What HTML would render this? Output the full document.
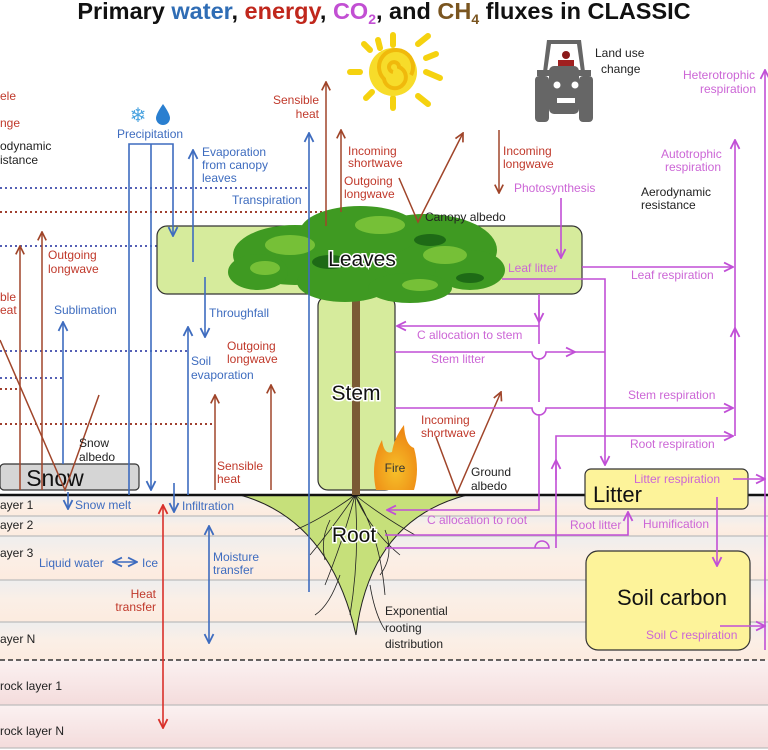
<!DOCTYPE html>
<html><head><meta charset="utf-8"><style>
html,body{margin:0;padding:0;background:#fff;}
svg{display:block;font-family:"Liberation Sans",sans-serif;}
.b{fill:#3e6cbf;font-size:12px}
.r{fill:#c0392b;font-size:12px}
.m{fill:#cc66d6;font-size:12px}
.k{fill:#222;font-size:12px}
</style></head><body>
<svg width="768" height="750" viewBox="0 0 768 750" xmlns="http://www.w3.org/2000/svg">
<defs>
<marker id="ab" viewBox="0 0 10 10" refX="9" refY="5" markerWidth="7" markerHeight="7" orient="auto-start-reverse"><path d="M1,1 L9,5 L1,9" fill="none" stroke="#3e6cbf" stroke-width="1.6"/></marker>
<marker id="ar" viewBox="0 0 10 10" refX="9" refY="5" markerWidth="7" markerHeight="7" orient="auto-start-reverse"><path d="M1,1 L9,5 L1,9" fill="none" stroke="#a0452a" stroke-width="1.6"/></marker>
<marker id="arr" viewBox="0 0 10 10" refX="9" refY="5" markerWidth="7" markerHeight="7" orient="auto-start-reverse"><path d="M1,1 L9,5 L1,9" fill="none" stroke="#d9302a" stroke-width="1.6"/></marker>
<marker id="am" viewBox="0 0 10 10" refX="9" refY="5" markerWidth="7" markerHeight="7" orient="auto-start-reverse"><path d="M1,1 L9,5 L1,9" fill="none" stroke="#c14fd6" stroke-width="1.6"/></marker>
<linearGradient id="band" x1="0" y1="0" x2="0" y2="1"><stop offset="0" stop-color="#eeeeee"/><stop offset="0.5" stop-color="#fbefe6"/><stop offset="1" stop-color="#fcebdf"/></linearGradient>
<linearGradient id="rock" x1="0" y1="0" x2="0" y2="1"><stop offset="0" stop-color="#fbf1f1"/><stop offset="1" stop-color="#f4dcdc"/></linearGradient>
<radialGradient id="fire" cx="0.5" cy="0.7" r="0.6"><stop offset="0" stop-color="#f6c02a"/><stop offset="1" stop-color="#ee8a14"/></radialGradient>
</defs>

<rect x="0" y="495" width="768" height="21" fill="url(#band)"/>
<rect x="0" y="516" width="768" height="20" fill="url(#band)"/>
<rect x="0" y="536" width="768" height="44" fill="url(#band)"/>
<rect x="0" y="580" width="768" height="42" fill="url(#band)"/>
<rect x="0" y="622" width="768" height="38" fill="url(#band)"/>
<rect x="0" y="660" width="768" height="45" fill="url(#rock)"/>
<rect x="0" y="705" width="768" height="43" fill="url(#rock)"/>
<g stroke="#bdbdbd" stroke-width="1.2">
<line x1="0" y1="516" x2="768" y2="516"/><line x1="0" y1="536" x2="768" y2="536"/>
<line x1="0" y1="580" x2="768" y2="580"/><line x1="0" y1="622" x2="768" y2="622"/>
<line x1="0" y1="705" x2="768" y2="705"/><line x1="0" y1="748" x2="768" y2="748"/>
</g>
<line x1="0" y1="660" x2="768" y2="660" stroke="#333" stroke-width="1.5" stroke-dasharray="5,3"/>

<text x="384" y="19" text-anchor="middle" font-size="23.5" font-weight="bold" fill="#111">Primary <tspan fill="#2f6db5">water</tspan>, <tspan fill="#c0271c">energy</tspan>, <tspan fill="#c24fd3">CO<tspan font-size="14" dy="5">2</tspan></tspan><tspan dy="-5">, and </tspan><tspan fill="#7a5520">CH<tspan font-size="14" dy="5">4</tspan></tspan><tspan dy="-5"> fluxes in CLASSIC</tspan></text>

<g stroke="#f5d20f" stroke-width="6" stroke-linecap="round">
<line x1="393" y1="35" x2="393" y2="45"/><line x1="393" y1="98" x2="393" y2="108"/>
<line x1="350" y1="72" x2="360" y2="72"/><line x1="426" y1="72" x2="440" y2="78"/>
<line x1="364" y1="44" x2="370" y2="50"/><line x1="418" y1="44" x2="428" y2="36"/>
<line x1="366" y1="98" x2="372" y2="92"/><line x1="418" y1="96" x2="428" y2="104"/>
<line x1="378" y1="40" x2="380" y2="48"/><line x1="426" y1="58" x2="436" y2="54"/>
</g>
<circle cx="393" cy="72" r="24" fill="#f7dc2a"/>
<path d="M393,72 a5,5 0 1,1 6,-5 a11,11 0 1,1 -15,12 a17,17 0 1,1 27,-4" fill="none" stroke="#f0b90c" stroke-width="4"/>

<g fill="#666">
<path d="M547,40 h34 l4,32 h-4 l-4,-28 h-26 l-4,28 h-4 z"/>
<rect x="537" y="70" width="54" height="6"/>
<rect x="549" y="66" width="30" height="48" rx="5"/>
<rect x="535" y="76" width="14" height="46" rx="4"/>
<rect x="579" y="76" width="14" height="46" rx="4"/>
</g>
<circle cx="566" cy="55" r="4" fill="#8b1a1a"/><rect x="558" y="60" width="16" height="6" fill="#a02020"/>
<circle cx="557" cy="85" r="3.5" fill="#fff"/><circle cx="575" cy="85" r="3.5" fill="#fff"/>
<rect x="557" y="98" width="18" height="5" fill="#fff"/>
<text class="k" x="595" y="57">Land use</text>
<text class="k" x="601" y="73">change</text>

<g stroke-width="2" stroke-dasharray="2,3">
<line x1="0" y1="188" x2="310" y2="188" stroke="#5560b5"/>
<line x1="0" y1="212" x2="326" y2="212" stroke="#a04030"/>
<line x1="0" y1="246" x2="195" y2="246" stroke="#5560b5"/>
<line x1="0" y1="351" x2="190" y2="351" stroke="#5560b5"/>
<line x1="0" y1="378" x2="62" y2="378" stroke="#5560b5"/>
<line x1="0" y1="389" x2="20" y2="389" stroke="#a04030"/>
<line x1="0" y1="424" x2="215" y2="424" stroke="#a04030"/>
</g>

<rect x="157" y="226" width="425" height="68" rx="10" fill="#d6eb9c" stroke="#333" stroke-width="1.2"/>
<rect x="318" y="296" width="77" height="194" rx="10" fill="#d6eb9c" stroke="#333" stroke-width="1.2"/>
<rect x="0" y="464" width="139" height="26" rx="4" fill="#d5d5d5" stroke="#333" stroke-width="1.2"/>
<text x="55" y="486" text-anchor="middle" font-size="23" fill="#111">Snow</text>

<path d="M240,495 Q330,520 356,635 Q370,520 467,495 Z" fill="#c6e07a" stroke="#222" stroke-width="1"/>
<g stroke="#222" stroke-width="0.8" fill="none">
<path d="M355,495 q-20,30 -45,60 m45,-60 q-10,40 -30,90 m30,-90 q15,35 45,60 m-45,-60 q25,20 60,40 m-60,-40 q-35,25 -60,35 m60,-35 q5,60 -5,120 m5,-120 q25,40 30,100"/>
<path d="M330,520 q-10,20 -5,40 m60,-30 q10,25 -5,45 m-40,0 q-10,30 -25,40 m55,-30 q5,30 15,45"/>
</g>

<line x1="0" y1="495" x2="768" y2="495" stroke="#111" stroke-width="2.5"/>

<text x="0" y="509" class="k">ayer 1</text><text x="0" y="529" class="k">ayer 2</text>
<text x="0" y="557" class="k">ayer 3</text><text x="0" y="643" class="k">ayer N</text>
<text x="0" y="690" class="k">rock layer 1</text><text x="0" y="735" class="k">rock layer N</text>

<rect x="352" y="290" width="8" height="205" fill="#7a5a35"/>
<path d="M350,300 L340,270 M362,300 L380,265 M356,300 L356,250" stroke="#6b4a2a" stroke-width="3"/>
<g fill="#3f9a22">
<ellipse cx="295" cy="255" rx="62" ry="30"/><ellipse cx="425" cy="250" rx="72" ry="36"/>
<ellipse cx="360" cy="232" rx="60" ry="26"/><ellipse cx="470" cy="270" rx="35" ry="20"/>
<ellipse cx="258" cy="272" rx="30" ry="18"/><ellipse cx="345" cy="282" rx="48" ry="20"/>
<ellipse cx="410" cy="288" rx="42" ry="15"/>
</g>
<g fill="#7cc53a" opacity="0.9">
<ellipse cx="290" cy="245" rx="25" ry="10"/><ellipse cx="380" cy="225" rx="25" ry="9"/>
<ellipse cx="445" cy="255" rx="22" ry="9"/><ellipse cx="265" cy="268" rx="15" ry="7"/>
<ellipse cx="420" cy="285" rx="18" ry="6"/>
</g>
<g fill="#1e6a16">
<ellipse cx="330" cy="262" rx="18" ry="7"/><ellipse cx="430" cy="240" rx="16" ry="6"/><ellipse cx="470" cy="278" rx="14" ry="5"/>
</g>
<text x="362" y="266" text-anchor="middle" font-size="21" fill="#111" stroke="#fff" stroke-width="3" paint-order="stroke">Leaves</text>
<text x="356" y="400" text-anchor="middle" font-size="21" fill="#111" stroke="#fff" stroke-width="3" paint-order="stroke">Stem</text>
<text x="354" y="542" text-anchor="middle" font-size="21" fill="#111" stroke="#fff" stroke-width="3" paint-order="stroke">Root</text>

<path d="M376,490 Q370,462 382,440 Q384,455 392,452 Q394,438 404,425 Q405,445 414,448 Q420,470 414,490 Z" fill="url(#fire)"/>
<text x="395" y="472" text-anchor="middle" font-size="12" fill="#333">Fire</text>

<rect x="585" y="469" width="163" height="40" rx="6" fill="#fdf39a" stroke="#333" stroke-width="1.2"/>
<text x="593" y="502" font-size="22" fill="#111">Litter</text>
<rect x="586" y="551" width="164" height="99" rx="12" fill="#fdf39a" stroke="#333" stroke-width="1.2"/>
<text x="672" y="605" text-anchor="middle" font-size="22" fill="#111">Soil carbon</text>

<g stroke="#3e6cbf" stroke-width="1.6" fill="none">
<path d="M129,495 V144 H173 V236" marker-end="url(#ab)"/>
<line x1="151" y1="144" x2="151" y2="490" marker-end="url(#ab)"/>
<line x1="193" y1="262" x2="193" y2="150" marker-end="url(#ab)"/>
<line x1="205" y1="277" x2="205" y2="337" marker-end="url(#ab)"/>
<line x1="63" y1="464" x2="63" y2="322" marker-end="url(#ab)"/>
<line x1="188" y1="495" x2="188" y2="327" marker-end="url(#ab)"/>
<line x1="309" y1="592" x2="309" y2="133" marker-end="url(#ab)"/>
<line x1="174" y1="483" x2="174" y2="512" marker-end="url(#ab)"/>
<line x1="68" y1="492" x2="68" y2="509" marker-end="url(#ab)"/>
<line x1="209" y1="526" x2="209" y2="643" marker-start="url(#ab)" marker-end="url(#ab)"/>
<line x1="113" y1="562" x2="137" y2="562" marker-start="url(#ab)" marker-end="url(#ab)"/>
</g>

<text x="138" y="122" text-anchor="middle" font-size="20" fill="#4aa3e0">❄</text>
<path d="M163,104 Q170,114 170,118 A7,7 0 0 1 156,118 Q156,114 163,104 Z" fill="#2a7fd0"/>

<g stroke="#a0452a" stroke-width="1.5" fill="none">
<line x1="326" y1="226" x2="326" y2="82" marker-end="url(#ar)"/>
<line x1="341" y1="212" x2="341" y2="130" marker-end="url(#ar)"/>
<line x1="20" y1="490" x2="20" y2="246" marker-end="url(#ar)"/>
<line x1="42" y1="490" x2="42" y2="232" marker-end="url(#ar)"/>
<path d="M0,340 L65,490 L99,395"/>
<line x1="215" y1="490" x2="215" y2="395" marker-end="url(#ar)"/>
<line x1="271" y1="490" x2="271" y2="385" marker-end="url(#ar)"/>
<path d="M399,178 L418,222 L463,133" marker-end="url(#ar)"/>
<line x1="499" y1="130" x2="499" y2="193" marker-end="url(#ar)"/>
<path d="M436,437 L457,493 L501,392" marker-end="url(#ar)"/>
</g>
<line x1="163" y1="505" x2="163" y2="728" stroke="#d9302a" stroke-width="1.6" marker-start="url(#arr)" marker-end="url(#arr)"/>

<g stroke="#c14fd6" stroke-width="1.6" fill="none">
<line x1="561" y1="198" x2="561" y2="258" marker-end="url(#am)"/>
<line x1="582" y1="267" x2="733" y2="267" marker-end="url(#am)"/>
<path d="M502,279 H605 V465" marker-end="url(#am)"/>
<path d="M539,294 V344 M539,358 V402 M539,414 V510 H387" marker-end="url(#am)"/>
<line x1="539" y1="300" x2="539" y2="322" marker-end="url(#am)"/>
<line x1="539" y1="326" x2="397" y2="326" marker-end="url(#am)"/>
<path d="M395,352 H532 a7,7 0 0 0 14,0 H575" marker-end="url(#am)"/>
<line x1="575" y1="352" x2="605" y2="352"/>
<path d="M395,408 H532 a7,7 0 0 0 14,0 H733" marker-end="url(#am)"/>
<path d="M556,548 V436 H733" marker-end="url(#am)"/>
<line x1="556" y1="480" x2="556" y2="460" marker-end="url(#am)"/>
<path d="M385,535 H628 V512" marker-end="url(#am)"/>
<path d="M385,548 H549 a7,7 0 0 0 -14,0"/>
<line x1="735" y1="436" x2="735" y2="140" marker-end="url(#am)"/>
<line x1="735" y1="360" x2="735" y2="328" marker-end="url(#am)"/>
<line x1="765" y1="650" x2="765" y2="70" marker-end="url(#am)"/>
<line x1="733" y1="479" x2="765" y2="479" marker-end="url(#am)"/>
<line x1="720" y1="626" x2="765" y2="626" marker-end="url(#am)"/>
<line x1="717" y1="497" x2="717" y2="566" marker-end="url(#am)"/>
</g>

<text class="r" x="0" y="100">ele</text>
<text class="r" x="0" y="127">nge</text>
<text class="k" x="0" y="150">odynamic</text>
<text class="k" x="0" y="164">istance</text>
<text class="r" x="0" y="301">ble</text>
<text class="r" x="0" y="314">eat</text>
<text class="b" x="117" y="138">Precipitation</text>
<text class="b" x="202" y="156">Evaporation</text>
<text class="b" x="202" y="169">from canopy</text>
<text class="b" x="202" y="182">leaves</text>
<text class="b" x="232" y="204">Transpiration</text>
<text class="r" x="319" y="104" text-anchor="end">Sensible</text>
<text class="r" x="319" y="118" text-anchor="end">heat</text>
<text class="r" x="48" y="259">Outgoing</text>
<text class="r" x="48" y="273">longwave</text>
<text class="b" x="54" y="314">Sublimation</text>
<text class="b" x="209" y="317">Throughfall</text>
<text class="r" x="227" y="350">Outgoing</text>
<text class="r" x="227" y="363">longwave</text>
<text class="b" x="191" y="365">Soil</text>
<text class="b" x="191" y="379">evaporation</text>
<text class="k" x="79" y="447">Snow</text>
<text class="k" x="79" y="461">albedo</text>
<text class="r" x="217" y="470">Sensible</text>
<text class="r" x="217" y="483">heat</text>
<text class="b" x="75" y="509">Snow melt</text>
<text class="b" x="182" y="510">Infiltration</text>
<text class="b" x="39" y="567">Liquid water</text>
<text class="b" x="142" y="567">Ice</text>
<text class="b" x="213" y="561">Moisture</text>
<text class="b" x="213" y="574">transfer</text>
<text class="r" x="156" y="598" text-anchor="end">Heat</text>
<text class="r" x="156" y="611" text-anchor="end">transfer</text>
<text class="k" x="385" y="615">Exponential</text>
<text class="k" x="385" y="632">rooting</text>
<text class="k" x="385" y="648">distribution</text>
<text class="r" x="348" y="155">Incoming</text>
<text class="r" x="348" y="167">shortwave</text>
<text class="r" x="344" y="185">Outgoing</text>
<text class="r" x="344" y="198">longwave</text>
<text class="k" x="425" y="221">Canopy albedo</text>
<text class="r" x="503" y="155">Incoming</text>
<text class="r" x="503" y="168">longwave</text>
<text class="m" x="514" y="192">Photosynthesis</text>
<text class="k" x="641" y="196">Aerodynamic</text>
<text class="k" x="641" y="209">resistance</text>
<text class="m" x="661" y="158">Autotrophic</text>
<text class="m" x="665" y="171">respiration</text>
<text class="m" x="683" y="79">Heterotrophic</text>
<text class="m" x="700" y="93">respiration</text>
<text class="m" x="508" y="272">Leaf litter</text>
<text class="m" x="631" y="279">Leaf respiration</text>
<text class="m" x="417" y="339">C allocation to stem</text>
<text class="m" x="431" y="363">Stem litter</text>
<text class="m" x="628" y="399">Stem respiration</text>
<text class="r" x="421" y="424">Incoming</text>
<text class="r" x="421" y="437">shortwave</text>
<text class="m" x="630" y="448">Root respiration</text>
<text class="k" x="471" y="476">Ground</text>
<text class="k" x="471" y="490">albedo</text>
<text class="m" x="634" y="483">Litter respiration</text>
<text class="m" x="427" y="524">C allocation to root</text>
<text class="m" x="570" y="529">Root litter</text>
<text class="m" x="643" y="528">Humification</text>
<text class="m" x="646" y="639">Soil C respiration</text>
</svg>
</body></html>
